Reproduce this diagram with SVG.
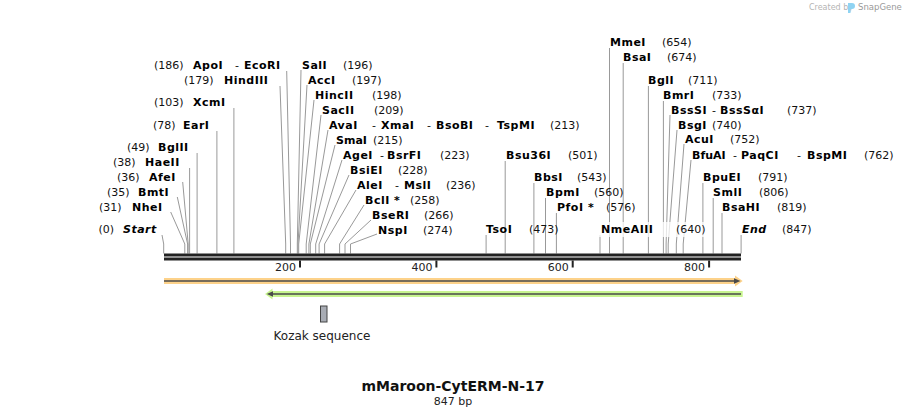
<svg xmlns="http://www.w3.org/2000/svg" width="907" height="417" viewBox="0 0 907 417">
<style>
text{font-family:"DejaVu Sans","Verdana","Liberation Sans",sans-serif;fill:#111}
.n{font-size:11px;font-weight:bold;letter-spacing:0.5px;fill:#000}
.p{font-size:11px}
.i{font-size:11px;font-weight:bold;font-style:italic;letter-spacing:0.5px;fill:#000}
.t{font-size:11px;fill:#222}
.c{fill:none;stroke:#999;stroke-width:1}
.tk{fill:#222}
</style>
<rect width="907" height="417" fill="#fff"/>

<g id="watermark">
<text x="809" y="10" style="font-size:8px;fill:#b4b4b4">Created by</text>
<path d="M848,3 h4 a3,3 0 0 1 0,6 h-1.5 v4 h-2.5 z" fill="#8fd3f2"/>
<text x="858" y="10" style="font-size:8.5px;fill:#9a9a9a">SnapGene</text>
</g>

<g id="connectors">
<path class="c" d="M162,235 L163.7,244 V253.5"/>
<path class="c" d="M170.7,212 L184.8,244 V253.5"/>
<path class="c" d="M177.3,197 L187.6,244 V253.5"/>
<path class="c" d="M182.7,182 L188.2,244 V253.5"/>
<path class="c" d="M189.6,168 V253.5"/>
<path class="c" d="M197.1,153 V253.5"/>
<path class="c" d="M216.9,131 V253.5"/>
<path class="c" d="M233.9,108 V253.5"/>
<path class="c" d="M280,86 L285.7,244 V253.5"/>
<path class="c" d="M286.7,71 L290.5,244 V253.5"/>
<path class="c" d="M301,70 L297.3,244 V253.5"/>
<path class="c" d="M307,85 L298,244 V253.5"/>
<path class="c" d="M314,100 L298.7,244 V253.5"/>
<path class="c" d="M321,115 L306.2,244 V253.5"/>
<path class="c" d="M328,130 L308.9,244 V253.5"/>
<path class="c" d="M335,145 L310.3,244 V253.5"/>
<path class="c" d="M342,160 L315.7,244 V253.5"/>
<path class="c" d="M349,175 L319.1,244 V253.5"/>
<path class="c" d="M356,190 L324.6,244 V253.5"/>
<path class="c" d="M364,205 L339.6,244 V253.5"/>
<path class="c" d="M371,220 L345,244 V253.5"/>
<path class="c" d="M377,234 L350.5,244 V253.5"/>
<path class="c" d="M486.1,235 V253.5"/>
<path class="c" d="M505.2,161 V253.5"/>
<path class="c" d="M533.9,183 V253.5"/>
<path class="c" d="M545.5,198 V253.5"/>
<path class="c" d="M556.4,213 V253.5"/>
<path class="c" d="M600,235 V253.5"/>
<path class="c" d="M609.5,48 V253.5"/>
<path class="c" d="M623.2,63 V253.5"/>
<path class="c" d="M648.4,86 V253.5"/>
<path class="c" d="M663.4,101 V253.5"/>
<path class="c" d="M670,115 L666.1,244 V253.5"/>
<path class="c" d="M677,130 L668.2,244 V253.5"/>
<path class="c" d="M684,144 L676.3,244 V253.5"/>
<path class="c" d="M691,160 L683.2,244 V253.5"/>
<path class="c" d="M702.9,183 V253.5"/>
<path class="c" d="M713.2,198 V253.5"/>
<path class="c" d="M722,213 V253.5"/>
<path class="c" d="M741.1,235 V253.5"/>
</g>

<g id="backbone">
<rect x="164" y="253.5" width="577" height="3" fill="#222"/>
<rect x="164" y="257.5" width="577" height="3" fill="#222"/>
<rect class="tk" x="299" y="260.5" width="2" height="7"/>
<rect class="tk" x="435.4" y="260.5" width="2" height="7"/>
<rect class="tk" x="571.7" y="260.5" width="2" height="7"/>
<rect class="tk" x="708.1" y="260.5" width="2" height="7"/>
<text class="t" x="296" y="270.5" text-anchor="end">200</text>
<text class="t" x="432.4" y="270.5" text-anchor="end">400</text>
<text class="t" x="568.7" y="270.5" text-anchor="end">600</text>
<text class="t" x="705.1" y="270.5" text-anchor="end">800</text>
</g>

<g id="feature-orange">
<path d="M164,278 H735 V275.5 L742.7,281 L735,286.5 V284 H164 Z" fill="#fdd28a"/>
<path d="M164,281 H736" stroke="#4a4a4a" stroke-width="1.6"/>
<path d="M734,278.3 L740.5,281 L734,283.7 Z" fill="#4a4a4a"/>
</g>
<g id="feature-green">
<path d="M742.7,291 H272.5 V288.5 L265,294 L272.5,299.5 V297 H742.7 Z" fill="#c8f590"/>
<path d="M271,294 H741" stroke="#4a4a4a" stroke-width="1.6"/>
<path d="M273,291.3 L266.8,294 L273,296.7 Z" fill="#4a4a4a"/>
</g>
<g id="kozak">
<rect x="320.5" y="306" width="6.5" height="16" fill="#a8acb4" stroke="#444" stroke-width="1"/>
<text x="322" y="340" text-anchor="middle" style="font-size:12px;fill:#222">Kozak sequence</text>
</g>

<g id="site-0"><text class="p" x="98.5" y="233">(0)</text><text class="i" x="123" y="233">Start</text></g>
<g id="site-31"><text class="p" x="99" y="211">(31)</text><text class="n" x="132" y="211">NheI</text></g>
<g id="site-35"><text class="p" x="107" y="196">(35)</text><text class="n" x="138" y="196">BmtI</text></g>
<g id="site-36"><text class="p" x="117" y="181">(36)</text><text class="n" x="149" y="181">AfeI</text></g>
<g id="site-38"><text class="p" x="113" y="166">(38)</text><text class="n" x="145" y="166">HaeII</text></g>
<g id="site-49"><text class="p" x="127" y="151">(49)</text><text class="n" x="158" y="151">BglII</text></g>
<g id="site-78"><text class="p" x="153" y="129">(78)</text><text class="n" x="183" y="129">EarI</text></g>
<g id="site-103"><text class="p" x="154" y="106">(103)</text><text class="n" x="193" y="106">XcmI</text></g>
<g id="site-179"><text class="p" x="184" y="84">(179)</text><text class="n" x="224" y="84">HindIII</text></g>
<g id="site-186"><text class="p" x="154" y="69">(186)</text><text class="n" x="193" y="69">ApoI</text><text class="p" x="235" y="69">-</text><text class="n" x="244" y="69">EcoRI</text></g>

<g id="site-196"><text class="n" x="302" y="69">SalI</text><text class="p" x="343" y="69">(196)</text></g>
<g id="site-197"><text class="n" x="308" y="84">AccI</text><text class="p" x="352" y="84">(197)</text></g>
<g id="site-198"><text class="n" x="315" y="99">HincII</text><text class="p" x="372" y="99">(198)</text></g>
<g id="site-209"><text class="n" x="322" y="114">SacII</text><text class="p" x="374" y="114">(209)</text></g>
<g id="site-213"><text class="n" x="329" y="129">AvaI</text><text class="p" x="372" y="129">-</text><text class="n" x="381" y="129">XmaI</text><text class="p" x="427" y="129">-</text><text class="n" x="436" y="129">BsoBI</text><text class="p" x="485" y="129">-</text><text class="n" x="497" y="129">TspMI</text><text class="p" x="550" y="129">(213)</text></g>
<g id="site-215"><text class="n" x="336" y="144" style="letter-spacing:0">SmaI</text><text class="p" x="373" y="144">(215)</text></g>
<g id="site-223"><text class="n" x="343" y="159">AgeI</text><text class="p" x="380" y="159">-</text><text class="n" x="387" y="159">BsrFI</text><text class="p" x="440" y="159">(223)</text></g>
<g id="site-228"><text class="n" x="350" y="174">BsiEI</text><text class="p" x="398" y="174">(228)</text></g>
<g id="site-236"><text class="n" x="357" y="189">AleI</text><text class="p" x="395" y="189">-</text><text class="n" x="404" y="189">MslI</text><text class="p" x="446" y="189">(236)</text></g>
<g id="site-258"><text class="n" x="365" y="204">BclI</text><text class="n" x="394" y="204">*</text><text class="p" x="410" y="204">(258)</text></g>
<g id="site-266"><text class="n" x="372" y="219">BseRI</text><text class="p" x="424" y="219">(266)</text></g>
<g id="site-274"><text class="n" x="378" y="234">NspI</text><text class="p" x="423" y="234">(274)</text></g>

<g id="site-473"><text class="n" x="486" y="233">TsoI</text><text class="p" x="529" y="233">(473)</text></g>
<g id="site-501"><text class="n" x="506" y="159">Bsu36I</text><text class="p" x="568" y="159">(501)</text></g>
<g id="site-543"><text class="n" x="534" y="181">BbsI</text><text class="p" x="577" y="181">(543)</text></g>
<g id="site-560"><text class="n" x="546" y="196">BpmI</text><text class="p" x="594" y="196">(560)</text></g>
<g id="site-576"><text class="n" x="557" y="211">PfoI</text><text class="n" x="588" y="211">*</text><text class="p" x="606" y="211">(576)</text></g>
<g id="site-640"><rect x="599" y="222" width="106" height="15" fill="#fff" fill-opacity="0.75"/><text class="n" x="601" y="233">NmeAIII</text><text class="p" x="676" y="233">(640)</text></g>
<g id="site-654"><text class="n" x="610" y="46">MmeI</text><text class="p" x="662" y="46">(654)</text></g>
<g id="site-674"><text class="n" x="623" y="61">BsaI</text><text class="p" x="667" y="61">(674)</text></g>
<g id="site-711"><text class="n" x="648" y="84">BglI</text><text class="p" x="688" y="84">(711)</text></g>
<g id="site-733"><text class="n" x="663" y="99">BmrI</text><text class="p" x="712" y="99">(733)</text></g>
<g id="site-737"><text class="n" x="671" y="114">BssSI</text><text class="p" x="712" y="114">-</text><text class="n" x="720" y="114">BssSαI</text><text class="p" x="787" y="114">(737)</text></g>
<g id="site-740"><text class="n" x="678" y="129">BsgI</text><text class="p" x="712" y="129">(740)</text></g>
<g id="site-752"><text class="n" x="685" y="143">AcuI</text><text class="p" x="730" y="143">(752)</text></g>
<g id="site-762"><text class="n" x="692" y="159" style="letter-spacing:0">BfuAI</text><text class="p" x="733" y="159">-</text><text class="n" x="741" y="159">PaqCI</text><text class="p" x="797" y="159">-</text><text class="n" x="807" y="159">BspMI</text><text class="p" x="864" y="159">(762)</text></g>
<g id="site-791"><text class="n" x="703" y="181">BpuEI</text><text class="p" x="758" y="181">(791)</text></g>
<g id="site-806"><text class="n" x="713" y="196">SmlI</text><text class="p" x="759" y="196">(806)</text></g>
<g id="site-819"><text class="n" x="722" y="211">BsaHI</text><text class="p" x="777" y="211">(819)</text></g>
<g id="site-847"><text class="i" x="742" y="233">End</text><text class="p" x="782" y="233">(847)</text></g>

<g id="title">
<text x="453" y="391" text-anchor="middle" style="font-size:14px;font-weight:bold;fill:#111">mMaroon-CytERM-N-17</text>
<text x="453" y="404.5" text-anchor="middle" style="font-size:11px;fill:#222">847 bp</text>
</g>
</svg>
